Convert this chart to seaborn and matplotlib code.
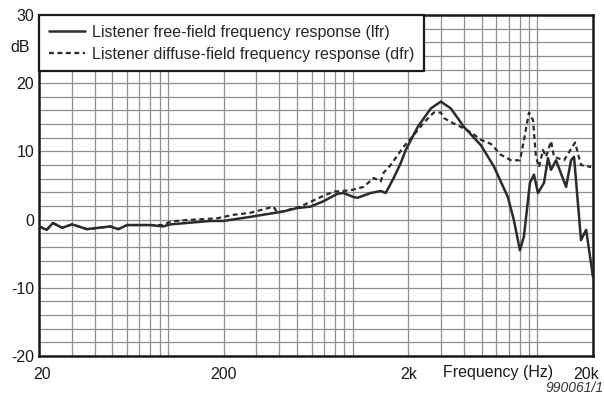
import numpy as np
import pandas as pd
import seaborn as sns
import matplotlib
import matplotlib.pyplot as plt
import matplotlib.transforms as mtransforms
from matplotlib.ticker import FixedLocator, LogLocator, NullFormatter

matplotlib.use('Agg')

# Данные
lfr_freq = [20, 22, 23.8, 26.7, 30.2, 36.4, 48.6, 53.7, 60, 80, 94, 103, 169, 199,
            279, 422, 502, 590, 695, 828, 892, 1011, 1063, 1250, 1417, 1508, 1666,
            1820, 1936, 2249, 2648, 3000, 3398, 4000, 4945, 5810, 6920, 7460, 8040,
            8450, 9110, 9580, 10070, 10860, 11410, 11850, 12610, 14300, 15210, 15790,
            17220, 18360, 20000]
lfr_db = [-1.0, -1.5, -0.5, -1.2, -0.7, -1.4, -1.0, -1.4, -0.8, -0.8, -1.0, -0.7, -0.2, -0.2,
          0.4, 1.2, 1.7, 1.9, 2.7, 3.8, 3.9, 3.3, 3.2, 3.9, 4.2, 3.9, 6.1,
          8.3, 10.2, 13.6, 16.3, 17.3, 16.3, 13.6, 10.9, 7.8, 3.3, -0.1, -4.5,
          -2.5, 5.4, 6.6, 3.9, 5.4, 9.0, 7.3, 8.7, 4.8, 8.7, 9.2,
          -3.0, -1.5, -8.4]

dfr_freq = [20, 22, 23.8, 26.7, 30.2, 36.4, 48.6, 53.7, 60, 80, 94, 103, 121, 185, 226,
            279, 372, 391, 521, 670, 787, 975, 1146, 1298, 1417, 1471, 1604, 1888, 2138,
            2424, 2747, 3000, 3113, 3398, 3847, 4360, 4945, 5600, 6340, 7190, 8040, 8450,
            9000, 9460, 9820, 10200, 10720, 11130, 11850, 12300, 13940, 16000, 17220, 19540]
dfr_db = [-1.0, -1.5, -0.5, -1.2, -0.7, -1.4, -1.0, -1.4, -0.8, -0.8, -0.8, -0.3, -0.1, 0.2, 0.7,
          1.0, 1.9, 1.0, 1.9, 3.3, 4.1, 4.3, 4.8, 6.1, 5.6, 6.9, 8.0, 10.7, 12.4,
          14.2, 15.7, 15.7, 14.9, 14.3, 13.6, 12.8, 11.7, 11.1, 9.5, 8.7, 8.7, 11.6,
          15.7, 14.6, 9.2, 7.7, 10.2, 9.2, 11.5, 9.2, 8.7, 11.3, 8.0, 7.7]

lfr_label = 'Listener free-field frequency response (lfr)'
dfr_label = 'Listener diffuse-field frequency response (dfr)'

x_ticks = [20, 200, 2000, 20000]
x_tick_labels = ['20', '200', '2k', '20k']
y_ticks = [-20, -10, 0, 10, 20, 30]

sns.set_style('white')
plt.rcParams['font.family'] = ['Liberation Sans', 'DejaVu Sans']
plt.rcParams['axes.unicode_minus'] = False

fig = plt.figure(figsize=(6.04, 3.96), dpi=100)
ax = fig.add_axes([39 / 604, 1 - 356 / 396, 554 / 604, 341 / 396])

df_lfr = pd.DataFrame({'freq': lfr_freq, 'db': lfr_db})
df_dfr = pd.DataFrame({'freq': dfr_freq, 'db': dfr_db})

sns.lineplot(data=df_dfr, x='freq', y='db', ax=ax, color='#2b2b2b', lw=1.6,
             linestyle=(0, (2.2, 1.6)), label=dfr_label, zorder=3)
sns.lineplot(data=df_lfr, x='freq', y='db', ax=ax, color='#2b2b2b', lw=1.8,
             label=lfr_label, zorder=4)

ax.set_xscale('log')
ax.set_xlim(20, 20000)
ax.set_ylim(-20, 30)

# сетка: логарифмическая по x, через 2 дБ по y
ax.xaxis.set_major_locator(FixedLocator(x_ticks))
ax.set_xticklabels(x_tick_labels)
ax.xaxis.set_minor_locator(LogLocator(base=10, subs=np.arange(1, 10)))
ax.xaxis.set_minor_formatter(NullFormatter())
ax.set_yticks(y_ticks)
ax.set_yticks(np.arange(-20, 31, 2), minor=True)
ax.grid(True, which='both', color='#8f8f8f', lw=0.9)
ax.tick_params(which='both', length=0, labelsize=11.5, colors='#1a1a1a')
ax.tick_params(axis='x', pad=8)
ax.tick_params(axis='y', pad=3.5)

# подписи 20 и 20k чуть сдвинуты внутрь, как в оригинале
shift = {0: 2 / 72, 3: -5 / 72}
for i, lab in enumerate(ax.get_xticklabels()):
    if i in shift:
        lab.set_transform(lab.get_transform() +
                          mtransforms.ScaledTranslation(shift[i], 0, fig.dpi_scale_trans))

for s in ax.spines.values():
    s.set_color('#1a1a1a')
    s.set_linewidth(1.8)

ax.set_xlabel('')
ax.set_ylabel('')

h, l = ax.get_legend_handles_labels()
leg = ax.legend(h[::-1], l[::-1], loc='upper left', bbox_to_anchor=(0, 1),
                borderaxespad=0, fancybox=False, framealpha=1, edgecolor='#1a1a1a',
                fontsize=11.5, handlelength=2.3, handletextpad=0.4, labelspacing=0.45,
                borderpad=0.6)
leg.get_frame().set_linewidth(1.6)
leg.set_zorder(10)

fig.text(20 / 604, 1 - 48 / 396, 'dB', ha='center', va='center', fontsize=11.5, color='#1a1a1a')
fig.text(498 / 604, 1 - 372 / 396, 'Frequency (Hz)', ha='center', va='center', fontsize=11.5,
         color='#1a1a1a')
fig.text(0.999, 1 - 388 / 396, '990061/1', ha='right', va='center', fontsize=10,
         style='italic', color='#333333')

fig.savefig('out.png', dpi=100)
